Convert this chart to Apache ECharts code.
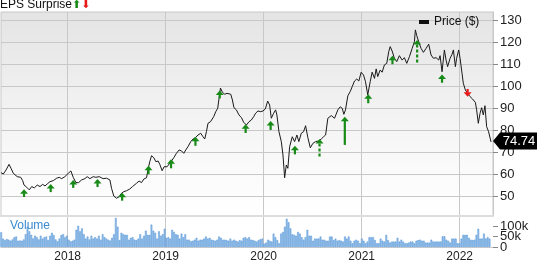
<!DOCTYPE html>
<html><head><meta charset="utf-8">
<script src="https://cdn.jsdelivr.net/npm/echarts@6/dist/echarts.min.js"></script>
<style>html,body{margin:0;padding:0;background:#fff}#c{width:537px;height:263px}</style>
</head><body><div id="c"></div>
<script>
// ---- data (time as fractional years) ----
const priceYears = [2017.320,2017.344,2017.371,2017.402,2017.422,2017.446,2017.486,2017.521,2017.541,2017.555,2017.582,2017.609,2017.633,2017.660,2017.690,2017.718,2017.745,2017.769,2017.792,2017.819,2017.853,2017.888,2017.914,2017.939,2017.972,2018.006,2018.033,2018.057,2018.084,2018.112,2018.142,2018.176,2018.199,2018.227,2018.261,2018.288,2018.322,2018.362,2018.397,2018.431,2018.448,2018.471,2018.499,2018.525,2018.550,2018.573,2018.601,2018.634,2018.662,2018.703,2018.729,2018.754,2018.777,2018.805,2018.821,2018.838,2018.856,2018.879,2018.900,2018.923,2018.940,2018.964,2018.984,2019.015,2019.035,2019.055,2019.083,2019.110,2019.137,2019.161,2019.185,2019.205,2019.228,2019.256,2019.280,2019.304,2019.330,2019.358,2019.381,2019.399,2019.416,2019.432,2019.457,2019.477,2019.490,2019.511,2019.531,2019.545,2019.559,2019.579,2019.603,2019.626,2019.646,2019.664,2019.681,2019.697,2019.722,2019.748,2019.773,2019.796,2019.824,2019.850,2019.874,2019.898,2019.918,2019.942,2019.969,2019.993,2020.017,2020.041,2020.061,2020.078,2020.102,2020.122,2020.135,2020.156,2020.180,2020.197,2020.214,2020.231,2020.247,2020.265,2020.292,2020.316,2020.339,2020.359,2020.384,2020.407,2020.428,2020.451,2020.476,2020.502,2020.530,2020.563,2020.588,2020.611,2020.632,2020.655,2020.690,2020.723,2020.757,2020.781,2020.802,2020.818,2020.835,2020.859,2020.883,2020.903,2020.927,2020.950,2020.971,2020.995,2021.019,2021.039,2021.062,2021.087,2021.107,2021.131,2021.148,2021.164,2021.189,2021.209,2021.232,2021.256,2021.276,2021.291,2021.311,2021.334,2021.358,2021.385,2021.413,2021.436,2021.460,2021.487,2021.515,2021.538,2021.548,2021.562,2021.582,2021.606,2021.630,2021.657,2021.684,2021.708,2021.732,2021.759,2021.786,2021.800,2021.820,2021.834,2021.844,2021.861,2021.877,2021.902,2021.922,2021.936,2021.956,2021.969,2021.990,2022.004,2022.024,2022.037,2022.058,2022.081,2022.106,2022.132,2022.160,2022.173,2022.190,2022.208,2022.224,2022.241,2022.258,2022.275,2022.295,2022.320];
const prices = [60.8,60.2,62.0,64.6,62.8,60.5,59.0,58.7,57.2,55.2,54.2,53.0,54.5,53.9,55.2,54.5,55.5,54.8,55.7,56.7,57.2,58.3,58.7,58.1,59.0,60.5,61.6,58.7,56.3,56.3,57.5,58.1,59.0,58.1,59.0,58.7,59.0,58.1,58.3,57.5,53.7,50.2,49.2,49.9,51.5,52.2,52.6,53.4,54.5,56.0,57.0,56.3,57.9,58.5,62.5,65.8,68.5,67.6,65.8,66.1,64.6,61.7,63.5,63.5,64.3,65.8,67.6,69.6,71.1,70.7,69.6,71.1,72.6,74.9,76.1,76.7,77.9,78.7,77.1,76.1,79.4,83.2,83.9,83.7,86.2,88.5,90.0,94.6,99.2,97.3,96.4,96.8,96.1,96.4,93.8,90.3,89.3,87.0,85.8,83.7,82.4,83.9,84.7,86.2,87.8,88.8,88.5,88.8,89.7,93.3,91.5,85.5,87.8,89.3,87.0,79.4,74.9,68.8,58.5,64.3,62.8,72.6,77.1,74.9,77.9,74.9,78.7,79.4,82.1,76.7,72.1,74.1,74.9,75.2,76.1,77.1,77.9,85.5,86.7,85.5,89.3,90.7,90.0,87.3,89.3,95.7,97.6,99.8,102.4,103.3,102.4,106.4,105.1,102.1,96.1,102.1,106.4,103.6,107.9,104.4,107.4,106.4,109.7,110.4,115.7,118.0,116.0,112.7,111.2,113.9,111.9,113.0,110.4,113.4,117.2,120.2,125.6,123.0,120.2,117.2,115.4,117.2,119.1,114.2,112.7,113.0,111.9,113.9,106.6,112.4,116.5,111.9,108.9,112.7,114.5,116.5,108.9,112.7,116.5,112.7,105.9,101.4,98.3,96.8,95.3,94.2,92.7,89.3,83.2,87.8,90.3,87.0,91.2,81.7,79.4,74.74];
// weekly volume, thousands of shares
const volumeStartYear = 2017.322;
const volumes = [71,40,33,38,35,30,36,47,50,30,31,30,36,61,97,75,58,41,54,47,36,54,40,47,50,33,54,68,57,36,27,40,57,61,47,54,35,27,30,35,82,101,75,89,61,40,50,36,54,40,47,40,54,35,61,47,40,35,31,44,61,139,97,33,68,61,
58,58,35,44,47,35,33,40,61,40,54,78,58,58,107,78,68,40,75,54,61,87,44,47,40,82,72,61,58,40,64,47,61,35,35,28,30,35,44,30,35,35,40,50,40,44,35,33,30,35,50,44,35,35,33,30,40,30,35,30,26,33,30,44,47,40,
47,35,33,30,26,33,37,40,16,21,35,30,26,64,47,33,18,64,72,97,135,118,89,61,58,54,72,64,47,35,47,82,54,54,30,40,40,40,50,35,35,30,30,50,50,33,40,30,33,30,26,50,40,50,30,18,30,35,30,18,40,30,18,26,47,47,
47,33,18,18,40,30,26,58,33,21,26,26,26,44,26,35,26,18,18,21,26,26,18,30,33,35,30,30,21,21,21,35,26,26,26,26,26,51,51,35,30,21,40,40,40,18,18,40,58,58,58,44,35,33,35,58,87,40,40,64,40,47,40];
// EPS surprise markers: date, arrow tip / tail price, direction (1 up, -1 down), stem (0 solid, 1 dashed)
const epsYears = [2017.555,2017.827,2018.057,2018.305,2018.556,2018.825,2019.055,2019.304,2019.552,2019.816,2020.071,2020.319,2020.570,2020.828,2021.067,2021.314,2021.566,2021.820,2022.081];
const epsTop =    [53.3,55.7,57.5,57.9,51.7,64.0,66.9,77.1,98.1,82.8,84.3,73.0,76.1,86.2,96.4,113.9,121.0,105.4,98.8];
const epsBottom = [49.8,52.0,53.9,54.3,48.1,60.1,62.8,73.0,94.5,78.8,80.2,69.1,67.3,73.4,92.3,110.0,110.0,101.6,95.3];
const epsDir =    [1,1,1,1,1,1,1,1,1,1,1,1,1,1,1,1,1,1,-1];
const epsStem =   [0,0,0,0,0,0,0,0,0,0,0,0,1,0,0,0,1,0,0];
const priceTicks = [50,60,70,80,90,100,110,120,130];
const volumeTicks = [0,50,100];
const volumeTickLabels = ['0','50k','100k'];
const yearTicks = [2018,2019,2020,2021,2022];
const lastPrice = 74.74;

const X_MIN = 2017.32, X_MAX = 2022.34;
const V_MAX = 148;
const FONT = 'Liberation Sans, Arial, sans-serif';

function renderEps(params, api) {
  const x = api.value(0), top = api.value(1), bot = api.value(2), dir = api.value(3), stem = api.value(4);
  const p1 = api.coord([x, top]), p2 = api.coord([x, bot]);
  const color = dir > 0 ? '#178a17' : '#e81818';
  const hw = 4, hh = 4.5, sw = 2.2;
  const ch = [];
  if (dir > 0) {
    ch.push({type:'polygon', shape:{points:[[p1[0],p1[1]],[p1[0]+hw,p1[1]+hh],[p1[0]-hw,p1[1]+hh]]}, style:{fill:color}});
    if (stem === 1) ch.push({type:'line', shape:{x1:p1[0],y1:p1[1]+hh,x2:p1[0],y2:p2[1]}, style:{stroke:color,lineWidth:sw,lineDash:[3,2]}});
    else ch.push({type:'rect', shape:{x:p1[0]-sw/2,y:p1[1]+hh-0.5,width:sw,height:p2[1]-p1[1]-hh+0.5}, style:{fill:color}});
  } else {
    ch.push({type:'rect', shape:{x:p1[0]-sw/2,y:p1[1],width:sw,height:p2[1]-p1[1]-hh+0.5}, style:{fill:color}});
    ch.push({type:'polygon', shape:{points:[[p2[0],p2[1]],[p2[0]+hw,p2[1]-hh],[p2[0]-hw,p2[1]-hh]]}, style:{fill:color}});
  }
  return {type:'group', children:ch};
}

// volume axis tick labels, placed through the volume axis scale
function renderVolLabel(params, api) {
  const p = api.coord([X_MAX, api.value(1)]);
  return {type:'text', x:p[0] + 7, y:p[1],
    style:{text:volumeTickLabels[params.dataIndex], fill:'#222', font:'13px ' + FONT, textAlign:'left', textVerticalAlign:'middle'}};
}

const chart = echarts.init(document.getElementById('c'), null, {renderer:'canvas'});
chart.setOption({
  animation:false,
  textStyle:{fontFamily:FONT},
  title:[
    {text:'EPS Surprise{g|⬆}{r|⬇}', left:0, top:-1, padding:0,
     textStyle:{fontSize:12, fontWeight:'normal', color:'#111', fontFamily:FONT,
       rich:{g:{color:'#178a17', fontSize:11, fontFamily:'DejaVu Sans'}, r:{color:'#e81818', fontSize:11, fontFamily:'DejaVu Sans'}}}},
    {text:'Volume', left:10, top:220, padding:0, textStyle:{fontSize:12, fontWeight:'normal', color:'#3a8ad0', fontFamily:FONT}}
  ],
  legend:{data:[{name:'Price ($)', icon:'rect'}], left:419, top:16, padding:0, itemWidth:10, itemHeight:4, itemGap:5,
    textStyle:{fontSize:12, color:'#111', fontFamily:FONT}},
  grid:[
    {left:1, right:44, top:12, height:204, show:true, borderColor:'#c8c8c8', borderWidth:1,
     backgroundColor:{type:'linear', x:0, y:0, x2:0, y2:1, colorStops:[{offset:0,color:'#e4e4e4'},{offset:0.75,color:'#fafafa'},{offset:1,color:'#ffffff'}]}},
    {left:1, right:44, top:216, height:35, show:false}
  ],
  xAxis:[
    {type:'value', gridIndex:0, min:X_MIN, max:X_MAX, minInterval:1, maxInterval:1,
     axisLine:{show:true, lineStyle:{color:'#dddddd', width:2}}, axisTick:{show:false, customValues:yearTicks},
     axisLabel:{show:false, customValues:yearTicks}, splitLine:{show:true, lineStyle:{color:'#c8c8c8'}}},
    {type:'value', gridIndex:1, min:X_MIN, max:X_MAX, minInterval:1, maxInterval:1,
     axisLine:{show:true, lineStyle:{color:'#cccccc'}}, axisTick:{show:false, customValues:yearTicks},
     axisLabel:{show:true, customValues:yearTicks, margin:4, fontSize:12, color:'#222', fontFamily:FONT,
       formatter:v => String(Math.round(v))},
     splitLine:{show:true, lineStyle:{color:'#c8c8c8'}}}
  ],
  yAxis:[
    {type:'value', gridIndex:0, position:'right', min:41.15, max:133.71, minInterval:10, maxInterval:10, splitNumber:9,
     axisLine:{show:true, lineStyle:{color:'#c8c8c8'}},
     axisTick:{show:true, length:5, customValues:priceTicks, lineStyle:{color:'#888'}},
     axisLabel:{show:true, customValues:priceTicks, margin:7, fontSize:13, color:'#222', fontFamily:FONT},
     splitLine:{show:true, lineStyle:{color:'#c8c8c8'}}},
    {type:'value', gridIndex:1, position:'right', min:0, max:V_MAX, minInterval:50, maxInterval:50,
     axisLine:{show:false},
     axisTick:{show:true, length:5, customValues:volumeTicks, lineStyle:{color:'#888'}},
     axisLabel:{show:false},
     splitLine:{show:false}}
  ],
  series:[
    {name:'Price ($)', type:'line', xAxisIndex:0, yAxisIndex:0, showSymbol:false, symbol:'none',
     data:priceYears.map((y,i)=>[y, prices[i]]), lineStyle:{color:'#1a1a1a', width:1}, itemStyle:{color:'#111'},
     z:3,
     markPoint:{symbol:'path://M0,8L7,0L46,0L46,16L7,16Z', symbolSize:[46,17], symbolOffset:[23,-1], silent:true,
       itemStyle:{color:'#000'},
       label:{show:true, color:'#fff', fontSize:13, fontFamily:FONT, offset:[3,0], formatter:p => p.value.toFixed(2)},
       data:[{coord:[X_MAX, lastPrice], value:lastPrice}]}},
    {name:'EPS', type:'custom', xAxisIndex:0, yAxisIndex:0, renderItem:renderEps, z:4,
     data:epsYears.map((y,i)=>[y, epsTop[i], epsBottom[i], epsDir[i], epsStem[i]])},
    {name:'Volume', type:'bar', xAxisIndex:1, yAxisIndex:1, barWidth:1.7,
     itemStyle:{color:'#9cc4ea', borderColor:'#4b8ed4', borderWidth:0.5},
     data:volumes.map((v,i)=>[volumeStartYear + i*7/365.25, v])},
    {name:'VolumeAxisLabels', type:'custom', xAxisIndex:1, yAxisIndex:1, renderItem:renderVolLabel, silent:true, clip:false,
     data:volumeTicks.map(v => [X_MAX, v])}
  ]
});
</script></body></html>
